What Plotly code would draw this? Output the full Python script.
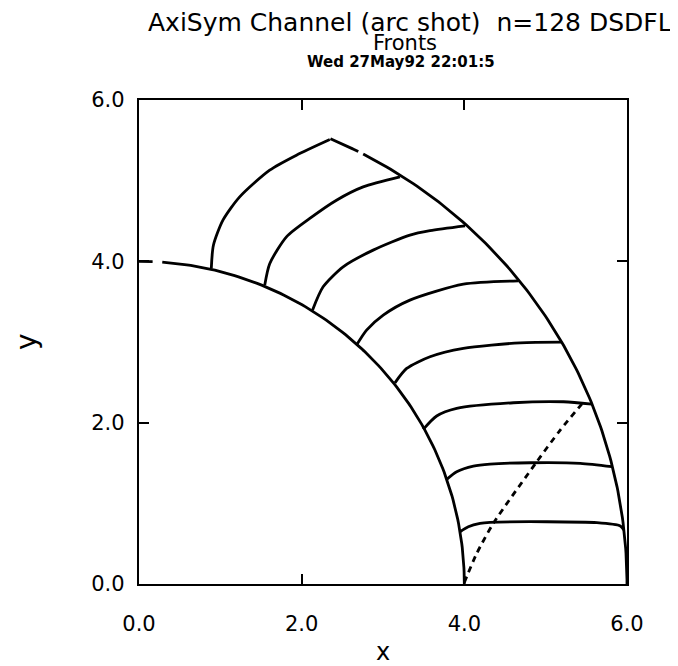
import numpy as np
import plotly.graph_objs as go

# boundary arcs of the channel (radius + angular pieces in degrees, gaps as in the plot)
inner_radius = 4.0
inner_pieces = [(90.0, 87.6), (85.9, 0.0)]
outer_radius = 6.0
outer_pieces = [(66.9, 63.3), (62.65, 0.0)]

# fronts
front_x = [
    [0.889, 0.915, 1.032, 1.238, 1.607, 1.936, 2.346],
    [1.546, 1.607, 1.813, 2.100, 2.428, 2.756, 3.208],
    [2.133, 2.264, 2.510, 2.879, 3.331, 3.578, 4.009],
    [2.675, 2.798, 3.003, 3.331, 3.988, 4.665],
    [3.147, 3.291, 3.578, 3.988, 4.686, 5.200],
    [3.495, 3.660, 3.906, 4.603, 5.219, 5.569],
    [3.783, 3.906, 4.111, 4.316, 4.809, 5.425, 5.815],
    [3.947, 4.049, 4.193, 4.316, 5.015, 5.630, 5.918, 5.962],
]
front_y = [
    [3.912, 4.200, 4.510, 4.799, 5.130, 5.316, 5.510],
    [3.705, 3.970, 4.304, 4.532, 4.758, 4.923, 5.047],
    [3.395, 3.684, 3.932, 4.139, 4.325, 4.380, 4.440],
    [2.962, 3.147, 3.333, 3.519, 3.717, 3.758],
    [2.494, 2.672, 2.817, 2.921, 2.990, 2.998],
    [1.917, 2.082, 2.177, 2.247, 2.259, 2.230],
    [1.297, 1.392, 1.462, 1.487, 1.503, 1.496, 1.454],
    [0.648, 0.710, 0.752, 0.765, 0.772, 0.760, 0.719, 0.670],
]

# dotted curve
dot_x = [4.000, 4.153, 4.357, 4.891, 5.179, 5.486]
dot_y = [0.020, 0.380, 0.752, 1.516, 1.908, 2.280]

tick_vals = [0.0, 2.0, 4.0, 6.0]
tick_text = ["0.0", "2.0", "4.0", "6.0"]

fig = go.Figure()

line = dict(color="black", width=2.8)

def arc(r, a0, a1):
    t = np.radians(np.linspace(a0, a1, 120))
    return r * np.cos(t), r * np.sin(t)

for a0, a1 in inner_pieces:
    ax, ay = arc(inner_radius, a0, a1)
    fig.add_trace(go.Scatter(x=ax, y=ay, mode="lines", line=line, showlegend=False))
for a0, a1 in outer_pieces:
    ax, ay = arc(outer_radius, a0, a1)
    fig.add_trace(go.Scatter(x=ax, y=ay, mode="lines", line=line, showlegend=False))

for fx, fy in zip(front_x, front_y):
    fig.add_trace(go.Scatter(x=fx, y=fy, mode="lines",
                             line=dict(line, shape="spline", smoothing=0.7),
                             showlegend=False))

fig.add_trace(go.Scatter(x=dot_x, y=dot_y, mode="lines", showlegend=False,
                         line=dict(color="black", width=2.8, dash="6px,5px",
                                   shape="spline", smoothing=0.7)))

axis = dict(
    range=[0, 6],
    tickvals=tick_vals,
    ticktext=tick_text,
    ticks="inside",
    ticklen=10,
    tickwidth=2,
    tickcolor="black",
    showline=True,
    linecolor="black",
    linewidth=2.4,
    mirror="ticks",
    showgrid=False,
    zeroline=False,
    automargin=False,
    tickfont=dict(family="DejaVu Sans", size=21, color="black"),
)

# page body has an 8px margin, so the figure is a bit smaller than the window
fig.update_layout(
    width=670,
    height=658,
    margin=dict(l=131, r=51, t=92, b=82),
    paper_bgcolor="white",
    plot_bgcolor="white",
    xaxis=dict(axis, ticklabelstandoff=20,
               title=dict(text="x", font=dict(family="DejaVu Sans", size=24, color="black"),
                          standoff=8)),
    yaxis=dict(axis, ticklabelstandoff=8),
)

# y title as annotation so it can sit far out in the margin
fig.add_annotation(text="y", xref="paper", yref="paper", x=0, y=0.5, xshift=-113,
                   textangle=-90, showarrow=False, xanchor="center", yanchor="middle",
                   font=dict(family="DejaVu Sans", size=28, color="black"))

# x positions are fractions of the plot area
fig.add_annotation(text="AxiSym Channel (arc shot)  n=128 DSDFL", xref="paper", yref="paper",
                   x=0.555, y=1.0, yshift=78, xanchor="center", yanchor="middle", showarrow=False,
                   font=dict(family="DejaVu Sans", size=25, color="black"))
fig.add_annotation(text="Fronts", xref="paper", yref="paper",
                   x=0.545, y=1.0, yshift=57, xanchor="center", yanchor="middle", showarrow=False,
                   font=dict(family="DejaVu Sans", size=21, color="black"))
fig.add_annotation(text="<b>Wed 27May92 22:01:5</b>", xref="paper", yref="paper",
                   x=0.537, y=1.0, yshift=38, xanchor="center", yanchor="middle", showarrow=False,
                   font=dict(family="DejaVu Sans", size=15, color="black"))

fig.write_html("out.html")
